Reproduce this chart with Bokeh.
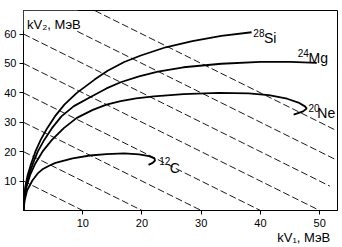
from bokeh.plotting import figure
from bokeh.models import Label, BoxAnnotation, Range1d, FixedTicker, Title
from bokeh.embed import file_html
from bokeh.resources import INLINE

# ---- data ----
si_x = [0, 0.1, 0.3, 0.7, 1.3, 2.0, 2.9, 4.0, 5.3, 6.9, 9.0, 12.0, 14.2, 17.0, 19.8, 24.0, 28.5, 33.4, 38.5]
si_y = [0, 4, 8, 12, 16, 20, 24, 28, 32, 36, 40, 44.5, 47.5, 50.5, 52.7, 55.5, 57.6, 59.4, 60.6]

mg_x = [0, 0.1, 0.4, 0.9, 1.6, 2.4, 3.5, 4.8, 6.4, 8.5, 11.4, 14.0, 16.4, 19.5, 22.7, 27.0, 33.4, 40.0, 45.0, 49.5]
mg_y = [0, 4, 8, 12, 16, 20, 24, 28, 32, 35.5, 38.7, 41.5, 43.6, 45.6, 47.2, 48.7, 49.9, 50.5, 50.5, 50.2]

ne_x = [0, 0.15, 0.5, 1.1, 2.0, 3.2, 4.8, 6.8, 9.0, 11.7, 14.0, 16.4, 19.0, 22.0, 27.0, 33.0, 38.0, 41.4, 44.5, 46.4, 47.5, 47.8, 47.2, 45.6]
ne_y = [0, 4, 8, 12, 16, 20, 24, 28, 31.5, 34.2, 36.0, 37.2, 38.1, 38.8, 39.6, 40.0, 39.8, 39.2, 38.0, 36.7, 35.4, 34.7, 33.7, 32.6]

c_x = [0, 0.2, 0.6, 1.5, 2.4, 3.2, 4.4, 5.4, 8.3, 11.2, 14.0, 17.0, 19.5, 21.2, 22.1, 22.2, 21.8, 21.1]
c_y = [0, 3.5, 6.8, 10.2, 12.6, 14.0, 15.3, 16.2, 17.7, 18.7, 19.2, 19.4, 19.1, 18.5, 17.7, 17.0, 16.2, 15.5]

# dashed lines kV1 + kV2 = const, drawn from kV1 = 0 to the end
sum_values = [10, 20, 30, 40, 50, 60, 70, 80]
sum_x_end = [10, 20, 30, 40, 50, 51.7, 52.8, 52.8]

x_ticks = [10, 20, 30, 40, 50]
y_ticks = [10, 20, 30, 40, 50, 60]

FONT = "Liberation Sans"

p = figure(width=342, height=247, output_backend="svg", toolbar_location=None,
           x_range=Range1d(0, 53), y_range=Range1d(0, 68),
           min_border_left=23, min_border_right=5, min_border_top=10, min_border_bottom=37)
p.grid.visible = False
p.outline_line_color = "black"
p.outline_line_width = 1
p.outline_line_alpha = 1
p.background_fill_color = "white"
p.border_fill_color = "white"

for ax in (p.xaxis[0], p.yaxis[0]):
    ax.axis_line_color = "black"
    ax.major_tick_line_color = "black"
    ax.major_tick_in = 0
    ax.major_tick_out = 4
    ax.minor_tick_line_color = None
    ax.major_label_text_font = FONT
    ax.major_label_text_font_size = "11px"
    ax.major_label_text_color = "black"
p.xaxis[0].ticker = FixedTicker(ticks=x_ticks)
p.yaxis[0].ticker = FixedTicker(ticks=y_ticks)
p.xaxis[0].major_label_standoff = 4
p.yaxis[0].major_label_standoff = 3

# x axis title below the axis, right aligned
p.add_layout(Title(text="kV\u2081, МэВ\u00a0\u00a0", align="right", standoff=0,
                   vertical_align="top",
                   text_font=FONT, text_font_size="13px", text_font_style="normal",
                   text_color="black"), "below")

# dashed lines
xs = [[0, xe] for xe in sum_x_end]
ys = [[s, s - xe] for s, xe in zip(sum_values, sum_x_end)]
p.multi_line(xs, ys, line_color="#1a1a1a", line_width=1, line_dash="7 3")

# curves
for cx, cy in ((si_x, si_y), (mg_x, mg_y), (ne_x, ne_y), (c_x, c_y)):
    p.line(cx, cy, line_color="black", line_width=1.8)

# white box behind the y axis title
p.add_layout(BoxAnnotation(left=0, right=9.2, bottom=61.0, top=68,
                           fill_color="white", fill_alpha=1, line_color=None))

def lab(x, y, t, size):
    p.add_layout(Label(x=x, y=y, text=t,
                       text_font=FONT, text_font_size=size, text_color="black",
                       text_baseline="alphabetic", text_align="left"))

# curve labels
lab(38.8, 60.5, "28", "10px"); lab(40.6, 58.5, "Si", "14px")
lab(46.3, 53.6, "24", "10px"); lab(48.1, 51.9, "Mg", "14px")
lab(48.1, 34.7, "20", "10px"); lab(49.6, 33.0, "Ne", "14px")
lab(22.9, 16.7, "12", "10px"); lab(24.7, 14.6, "C", "14px")

# y axis title
lab(0.6, 63.3, "kV\u2082, МэВ", "13px")

open("out.html", "w").write(file_html(p, INLINE))
